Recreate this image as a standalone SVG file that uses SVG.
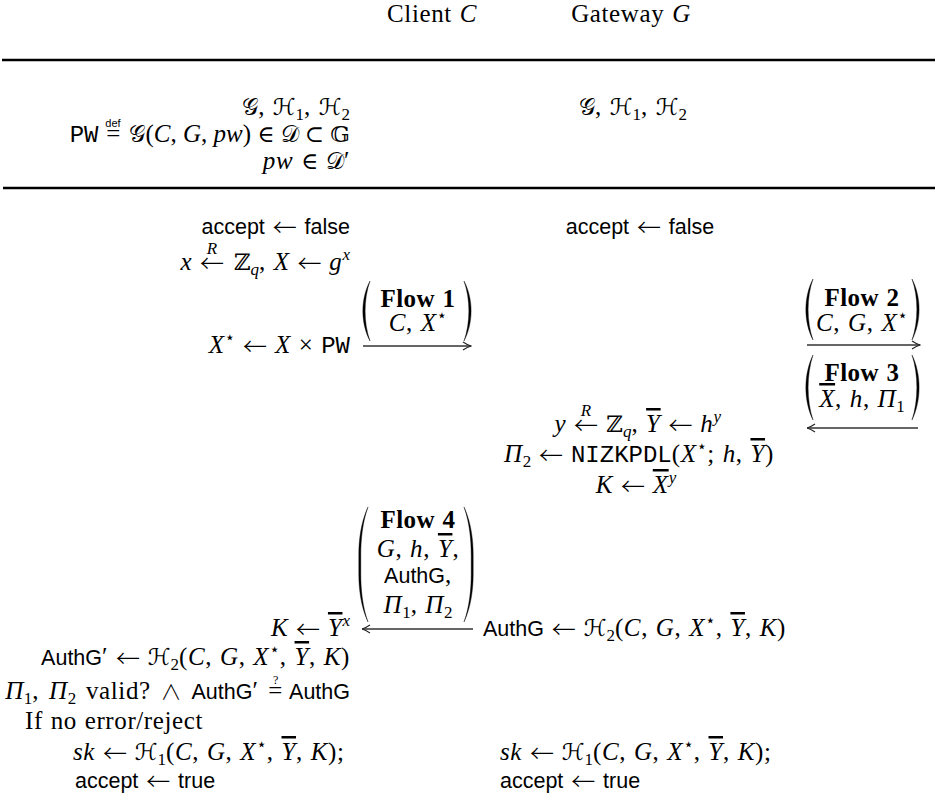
<svg xmlns="http://www.w3.org/2000/svg" width="935" height="798" viewBox="0 0 935 798">
<style>
text{font-family:"Liberation Serif","DejaVu Serif",serif;font-size:25px;fill:#000;letter-spacing:0.6px;word-spacing:1px}
.i{font-style:italic}
.b{font-weight:bold;letter-spacing:0.4px}
.s{font-family:"Liberation Sans","DejaVu Sans",sans-serif;font-size:21.5px;font-style:normal;letter-spacing:0}
.m{font-family:"Liberation Mono","DejaVu Sans Mono",monospace;font-size:24px;letter-spacing:0}
.y{font-family:"DejaVu Serif","DejaVu Sans","Noto Sans",serif;font-size:23px;font-style:normal;letter-spacing:0}
.a{font-family:"Noto Sans CJK JP","DejaVu Sans",sans-serif;font-size:24px;font-style:normal;font-weight:300;letter-spacing:0;baseline-shift:-2px}
.w{font-family:"Noto Sans CJK JP","DejaVu Sans",sans-serif;font-size:21px;font-style:normal;font-weight:300;letter-spacing:0}
.st{font-family:"DejaVu Sans","Noto Sans",sans-serif;font-size:17px;font-style:normal;letter-spacing:0}
.sm{font-size:17px;letter-spacing:0}
.tiny{font-family:"Liberation Sans","DejaVu Sans",sans-serif;font-size:11px;letter-spacing:0}
.ov{text-decoration:overline}
.mid{text-anchor:middle}
.end{text-anchor:end}
.tight{letter-spacing:0;word-spacing:0}
.rule{stroke:#000;stroke-width:2.4}
.arr{stroke:#333;stroke-width:1.3;fill:none;marker-end:url(#ah)}
.par{fill:#000;stroke:#000;stroke-width:0.4}
</style>
<defs>
<marker id="ah" viewBox="0 0 10 10" refX="9.5" refY="5" markerWidth="10" markerHeight="10" markerUnits="userSpaceOnUse" orient="auto">
<path d="M1.5,1 Q6,4 9.5,5 Q6,6 1.5,9" fill="none" stroke="#222" stroke-width="1.1"/>
</marker>
</defs>

<g id="header">
<text class="mid" x="432" y="22">Client <tspan class="i">C</tspan></text>
<text class="mid" x="631" y="22">Gateway <tspan class="i">G</tspan></text>
</g>

<g id="rules">
<line class="rule" x1="2" y1="60" x2="935" y2="60"/>
<line class="rule" x1="3" y1="188" x2="935" y2="188"/>
</g>

<g id="client-setup">
<text class="end" x="350" y="115"><tspan class="y">𝒢</tspan>, <tspan class="y">ℋ</tspan><tspan class="sm" dy="5">1</tspan><tspan dy="-5">, </tspan><tspan class="y">ℋ</tspan><tspan class="sm" dy="5">2</tspan></text>
<text class="end" x="121" y="142"><tspan class="m">PW</tspan> =</text>
<text class="tiny mid" x="113" y="127">def</text>
<text class="end tight" x="350" y="142"><tspan class="y">𝒢</tspan>(<tspan class="i">C</tspan>, <tspan class="i">G</tspan>, <tspan class="i">pw</tspan>) <tspan class="y">∈</tspan> <tspan class="y">𝒟</tspan> <tspan class="y">⊂</tspan> <tspan class="y">𝔾</tspan></text>
<text class="end" x="350" y="169"><tspan class="i">pw</tspan> <tspan class="y">∈</tspan> <tspan class="y">𝒟</tspan>′</text>
</g>

<g id="gateway-setup">
<text class="mid" x="633" y="115"><tspan class="y">𝒢</tspan>, <tspan class="y">ℋ</tspan><tspan class="sm" dy="5">1</tspan><tspan dy="-5">, </tspan><tspan class="y">ℋ</tspan><tspan class="sm" dy="5">2</tspan></text>
</g>

<g id="client-init">
<text class="end" x="350" y="234"><tspan class="s">accept</tspan> <tspan class="a">←</tspan> <tspan class="s">false</tspan></text>
<text class="end" x="224" y="270"><tspan class="i">x</tspan> <tspan class="a">←</tspan></text>
<text class="i mid sm" x="212" y="254">R</text>
<text class="end" x="350" y="270"><tspan class="y">ℤ</tspan><tspan class="sm i" dy="5">q</tspan><tspan dy="-5">, </tspan><tspan class="i">X</tspan> <tspan class="a">←</tspan> <tspan class="i">g</tspan><tspan class="sm i" dy="-10">x</tspan></text>
<text class="end" x="350" y="353"><tspan class="i">X</tspan><tspan class="st" dy="-10">⋆</tspan><tspan dy="10"> </tspan><tspan class="a">←</tspan> <tspan class="i">X</tspan> × <tspan class="m">PW</tspan></text>
</g>

<g id="gateway-init">
<text class="mid" x="640" y="234"><tspan class="s">accept</tspan> <tspan class="a">←</tspan> <tspan class="s">false</tspan></text>
</g>

<g id="gateway-compute">
<text class="end" x="598" y="432"><tspan class="i">y</tspan> <tspan class="a">←</tspan></text>
<text class="i mid sm" x="586" y="416">R</text>
<text class="end" x="721" y="432"><tspan class="y">ℤ</tspan><tspan class="sm i" dy="5">q</tspan><tspan dy="-5">, </tspan><tspan class="i ov">Y</tspan> <tspan class="a">←</tspan> <tspan class="i">h</tspan><tspan class="sm i" dy="-10">y</tspan></text>
<text class="mid" x="639" y="462"><tspan class="i">Π</tspan><tspan class="sm" dy="5">2</tspan><tspan dy="-5"> </tspan><tspan class="a">←</tspan> <tspan class="m">NIZKPDL</tspan>(<tspan class="i">X</tspan><tspan class="st" dy="-10">⋆</tspan><tspan dy="10">; </tspan><tspan class="i">h</tspan>, <tspan class="i ov">Y</tspan>)</text>
<text class="mid" x="636" y="493"><tspan class="i">K</tspan> <tspan class="a">←</tspan> <tspan class="i ov">X</tspan><tspan class="sm i" dy="-10">y</tspan></text>
<text x="483" y="636"><tspan class="s">AuthG</tspan> <tspan class="a">←</tspan> <tspan class="y">ℋ</tspan><tspan class="sm" dy="5">2</tspan><tspan dy="-5">(</tspan><tspan class="i">C</tspan>, <tspan class="i">G</tspan>, <tspan class="i">X</tspan><tspan class="st" dy="-10">⋆</tspan><tspan dy="10">, </tspan><tspan class="i ov">Y</tspan>, <tspan class="i">K</tspan>)</text>
</g>

<g id="client-verify">
<text class="end" x="350" y="636"><tspan class="i">K</tspan> <tspan class="a">←</tspan> <tspan class="i ov">Y</tspan><tspan class="sm i" dy="-10">x</tspan></text>
<text class="end" x="350" y="665"><tspan class="s">AuthG</tspan>′ <tspan class="a">←</tspan> <tspan class="y">ℋ</tspan><tspan class="sm" dy="5">2</tspan><tspan dy="-5">(</tspan><tspan class="i">C</tspan>, <tspan class="i">G</tspan>, <tspan class="i">X</tspan><tspan class="st" dy="-10">⋆</tspan><tspan dy="10">, </tspan><tspan class="i ov">Y</tspan>, <tspan class="i">K</tspan>)</text>
<text class="end" x="283" y="699" style="word-spacing:3px"><tspan class="i">Π</tspan><tspan class="sm" dy="5">1</tspan><tspan dy="-5">, </tspan><tspan class="i">Π</tspan><tspan class="sm" dy="5">2</tspan><tspan dy="-5"> valid? </tspan><tspan class="w">∧</tspan> <tspan class="s">AuthG</tspan>′ =</text>
<text class="mid" x="276" y="684" style="font-size:12px">?</text>
<text class="end" x="350" y="699"><tspan class="s">AuthG</tspan></text>
<text x="25" y="729">If no error/reject</text>
<text x="73" y="760"><tspan class="i">sk</tspan> <tspan class="a">←</tspan> <tspan class="y">ℋ</tspan><tspan class="sm" dy="5">1</tspan><tspan dy="-5">(</tspan><tspan class="i">C</tspan>, <tspan class="i">G</tspan>, <tspan class="i">X</tspan><tspan class="st" dy="-10">⋆</tspan><tspan dy="10">, </tspan><tspan class="i ov">Y</tspan>, <tspan class="i">K</tspan>);</text>
<text x="75" y="788"><tspan class="s">accept</tspan> <tspan class="a">←</tspan> <tspan class="s">true</tspan></text>
</g>

<g id="gateway-final">
<text x="500" y="760"><tspan class="i">sk</tspan> <tspan class="a">←</tspan> <tspan class="y">ℋ</tspan><tspan class="sm" dy="5">1</tspan><tspan dy="-5">(</tspan><tspan class="i">C</tspan>, <tspan class="i">G</tspan>, <tspan class="i">X</tspan><tspan class="st" dy="-10">⋆</tspan><tspan dy="10">, </tspan><tspan class="i ov">Y</tspan>, <tspan class="i">K</tspan>);</text>
<text x="500" y="788"><tspan class="s">accept</tspan> <tspan class="a">←</tspan> <tspan class="s">true</tspan></text>
</g>

<g id="connectors">
<g id="flow1">
<path class="par" d="M370,281 C360.5,299 360.5,323 370,341 C363.5,323 363.5,299 370,281Z"/>
<path class="par" d="M464,281 C473.5,299 473.5,323 464,341 C470.5,323 470.5,299 464,281Z"/>
<text class="b mid" x="418" y="307">Flow 1</text>
<text class="mid" x="418" y="331"><tspan class="i">C</tspan>, <tspan class="i">X</tspan><tspan class="st" dy="-10">⋆</tspan></text>
<path class="arr" d="M363,346 H471"/>
</g>
<g id="flow2">
<path class="par" d="M813,279 C803.5,297.3 803.5,321.7 813,340 C806.5,321.7 806.5,297.3 813,279Z"/>
<path class="par" d="M912,279 C921.5,297.3 921.5,321.7 912,340 C918.5,321.7 918.5,297.3 912,279Z"/>
<text class="b mid" x="862" y="306">Flow 2</text>
<text class="mid" x="862" y="331"><tspan class="i">C</tspan>, <tspan class="i">G</tspan>, <tspan class="i">X</tspan><tspan class="st" dy="-10">⋆</tspan></text>
<path class="arr" d="M807,345 H920"/>
</g>
<g id="flow3">
<path class="par" d="M813,355 C803.5,374.5 803.5,400.5 813,420 C806.5,400.5 806.5,374.5 813,355Z"/>
<path class="par" d="M912,355 C921.5,374.5 921.5,400.5 912,420 C918.5,400.5 918.5,374.5 912,355Z"/>
<text class="b mid" x="862" y="381">Flow 3</text>
<text class="mid" x="862" y="407"><tspan class="i ov">X</tspan>, <tspan class="i">h</tspan>, <tspan class="i">Π</tspan><tspan class="sm" dy="5">1</tspan></text>
<path class="arr" d="M918,428 H807"/>
</g>
<g id="flow4">
<path class="par" d="M368,507 C361,522 358.8,540 358.8,555 L358.8,574 C358.8,589 361,607 368,622 C362.5,607 360.8,589 360.8,574 L360.8,555 C360.8,540 362.5,522 368,507Z"/>
<path class="par" d="M464,507 C471,522 473.2,540 473.2,555 L473.2,574 C473.2,589 471,607 464,622 C469.5,607 471.2,589 471.2,574 L471.2,555 C471.2,540 469.5,522 464,507Z"/>
<text class="b mid" x="418" y="528">Flow 4</text>
<text class="mid" x="418" y="557"><tspan class="i">G</tspan>, <tspan class="i">h</tspan>, <tspan class="i ov">Y</tspan>,</text>
<text class="mid" x="418" y="583"><tspan class="s">AuthG</tspan>,</text>
<text class="mid" x="418" y="613"><tspan class="i">Π</tspan><tspan class="sm" dy="5">1</tspan><tspan dy="-5">, </tspan><tspan class="i">Π</tspan><tspan class="sm" dy="5">2</tspan></text>
<path class="arr" d="M473,629 H362"/>
</g>
</g>
</svg>
